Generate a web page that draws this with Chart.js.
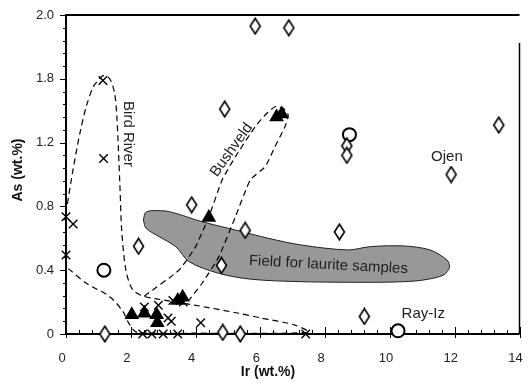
<!DOCTYPE html>
<html>
<head>
<meta charset="utf-8">
<script src="https://cdn.jsdelivr.net/npm/chart.js@4.4.0/dist/chart.umd.min.js"></script>
<style>
  body { margin: 0; background: #fff; }
  canvas { display: block; }
</style>
</head>
<body>
<canvas id="chart" width="528" height="383"></canvas>
<script>
// tick labels as printed on the figure (the 1.6 position is labelled 1.8)
const yTickLabels = ['0', '0.4', '0.8', '1.2', '1.8', '2.0'];

// samples, [Ir, As] in wt.%
const diamonds = [[5.84,1.93],[6.88,1.92],[4.9,1.41],[8.67,1.18],[8.67,1.12],[11.89,1.0],[13.36,1.31],
  [3.88,0.81],[5.53,0.65],[4.8,0.43],[2.24,0.55],[8.44,0.64],[9.21,0.11],[1.2,0],[4.84,0.01],[5.38,0]];
const openCircles = [[1.17,0.4],[8.75,1.25],[10.25,0.02]];
const filledCircles = [[2.67,-0.06]];
const triangles = [[2.03,0.12],[2.42,0.13],[2.8,0.12],[2.82,0.07],[3.45,0.21],[3.6,0.23],[4.41,0.73],[6.5,1.36],[6.66,1.38]];
const crosses = [[1.14,1.59],[1.16,1.1],[0,0.735],[0.22,0.69],[0,0.495],[2.42,0.17],[2.85,0.18],[3.3,0.21],[3.62,0.2],
  [3.15,0.1],[3.25,0.08],[4.16,0.07],[2.37,0],[2.65,0],[3.0,0],[3.45,0],[7.4,0]];

// outlines
const lauriteField = [[2.39,0.715],[2.45,0.76],[2.63,0.773],[3.19,0.767],[4.2,0.704],[5.23,0.652],[6.25,0.6],[7.26,0.558],
  [8.7,0.527],[9.4,0.548],[10.43,0.552],[11.24,0.527],[11.76,0.464],[11.84,0.418],[11.66,0.37],[11.05,0.339],[10.43,0.328],
  [9.4,0.324],[7.26,0.328],[5.73,0.343],[4.72,0.38],[3.8,0.453],[3.39,0.547],[2.88,0.61],[2.47,0.663],[2.39,0.715]];
const birdRiver = [[0.07,0.41],[0.63,0.318],[1.35,0.234],[1.76,0.14],[1.96,0.06],[2.2,0.01],[4.0,0.005],[7.47,0.01],
  [7.07,0.056],[6.03,0.1],[5.33,0.13],[4.0,0.18],[2.8,0.22],[2.35,0.24],[2.05,0.28],[1.85,0.4],[1.72,0.65],[1.67,0.9],
  [1.62,1.15],[1.57,1.36],[1.5,1.51],[1.35,1.6],[1.15,1.62],[0.95,1.58],[0.84,1.55],[0.63,1.43],[0.43,1.26],[0.2,1.01],[0.03,0.8]];
const bushveld = [[2.42,0.238],[3.49,0.401],[4.0,0.547],[4.41,0.735],[4.82,0.966],[5.23,1.112],[5.84,1.3],[6.15,1.373],
  [6.45,1.425],[6.71,1.415],[6.86,1.373],[6.76,1.3],[6.45,1.174],[6.15,1.049],[5.69,0.966],[5.23,0.735],[4.72,0.485],
  [4.2,0.318],[3.8,0.213]];

const labels = [
  { text: 'Bird River', x: 1.91, y: 1.254, rot: 90 },
  { text: 'Bushveld', x: 5.11, y: 1.154, rot: -54.5 },
  { text: 'Field for laurite samples', x: 8.1, y: 0.433, rot: 3 },
  { text: 'Ojen', x: 11.76, y: 1.11, rot: 0 },
  { text: 'Ray-Iz', x: 11.03, y: 0.125, rot: 0 }
];

const pts = a => a.map(([x, y]) => ({ x, y }));
const FONT = '"Liberation Sans", Arial, sans-serif';

// tall open diamond marker
const diamond = document.createElement('canvas');
diamond.width = 13; diamond.height = 18;
(function () {
  const c = diamond.getContext('2d');
  c.beginPath();
  c.moveTo(6.5, 1.2); c.lineTo(11.5, 9); c.lineTo(6.5, 16.8); c.lineTo(1.5, 9); c.closePath();
  c.fillStyle = '#fff'; c.fill();
  c.lineWidth = 1.6; c.strokeStyle = '#000'; c.stroke();
})();

const decor = {
  id: 'decor',
  beforeDatasetsDraw(chart) {
    const { ctx, chartArea: a, scales: { x, y } } = chart;
    ctx.save();
    ctx.strokeStyle = '#000';
    // frame
    ctx.lineWidth = 2;
    ctx.beginPath();
    ctx.moveTo(a.left, a.bottom); ctx.lineTo(a.right, a.bottom);
    ctx.moveTo(a.left, a.bottom); ctx.lineTo(a.left, a.top);
    ctx.moveTo(a.left - 1, a.top); ctx.lineTo(a.right, a.top);
    ctx.stroke();
    ctx.lineWidth = 1.5;
    ctx.beginPath();
    ctx.moveTo(a.right, a.top + 28); ctx.lineTo(a.right, a.bottom);
    ctx.stroke();
    // ticks
    ctx.lineWidth = 1;
    ctx.beginPath();
    for (let i = 0; i <= 35; i++) {
      const px = Math.round(x.getPixelForValue(i * 0.4)) + 0.5;
      if (i % 5 === 0) { ctx.moveTo(px, a.bottom - 7); ctx.lineTo(px, a.bottom + 4); }
      else { ctx.moveTo(px, a.bottom - 4); ctx.lineTo(px, a.bottom); }
    }
    for (let i = 0; i <= 25; i++) {
      const py = Math.round(y.getPixelForValue(i * 0.08)) + 0.5;
      if (i % 5 === 0) { ctx.moveTo(a.left - 6, py); ctx.lineTo(a.left, py); }
      else { ctx.moveTo(a.left - 3, py); ctx.lineTo(a.left, py); }
    }
    ctx.stroke();
    // axis titles
    ctx.fillStyle = '#111';
    ctx.font = 'bold 14px ' + FONT;
    ctx.textAlign = 'center'; ctx.textBaseline = 'middle';
    ctx.fillText('Ir (wt.%)', 268, 372);
    ctx.translate(18, 170); ctx.rotate(-Math.PI / 2);
    ctx.fillText('As (wt.%)', 0, 0);
    ctx.restore();
  },
  afterDatasetsDraw(chart) {
    const { ctx, scales: { x, y } } = chart;
    ctx.save();
    ctx.fillStyle = '#222';
    ctx.font = '15px ' + FONT;
    ctx.textAlign = 'center'; ctx.textBaseline = 'middle';
    labels.forEach(l => {
      ctx.save();
      ctx.translate(x.getPixelForValue(l.x), y.getPixelForValue(l.y));
      ctx.rotate(l.rot * Math.PI / 180);
      ctx.fillText(l.text, 0, 0);
      ctx.restore();
    });
    ctx.restore();
  }
};

const dashed = { showLine: true, fill: false, borderColor: '#000', borderWidth: 1.2, borderDash: [6, 4],
  pointRadius: 0, order: 9 };

new Chart(document.getElementById('chart'), {
  type: 'scatter',
  data: {
    datasets: [
      { data: pts(lauriteField), showLine: true, fill: 'shape', backgroundColor: '#989898', borderColor: '#222',
        borderWidth: 1, pointRadius: 0, tension: 0.3, order: 10 },
      { ...dashed, data: pts(birdRiver), tension: 0.3 },
      { ...dashed, data: pts(bushveld), tension: 0.15 },
      { data: pts(diamonds), pointStyle: diamond, order: 1 },
      { data: pts(openCircles), pointStyle: 'circle', pointRadius: 6.5, borderWidth: 2, borderColor: '#000',
        backgroundColor: '#fff', order: 1 },
      { data: pts(crosses), pointStyle: 'crossRot', pointRadius: 6, borderWidth: 1.4, borderColor: '#000', order: 2 },
      { data: pts(triangles), pointStyle: 'triangle', pointRadius: 8.5, borderWidth: 0, backgroundColor: '#000', order: 0 },
      { data: pts(filledCircles), pointStyle: 'circle', pointRadius: 6, borderWidth: 0, backgroundColor: '#000', order: 0 }
    ].map(d => ({ clip: false, ...d }))
  },
  options: {
    responsive: false,
    animation: false,
    devicePixelRatio: 1,
    layout: { padding: { top: 15, right: 5, left: 0, bottom: 0 } },
    plugins: { legend: { display: false }, tooltip: { enabled: false } },
    scales: {
      x: {
        type: 'linear', min: 0, max: 14,
        grid: { display: false, drawTicks: false },
        border: { display: false },
        ticks: { stepSize: 2, padding: 17, labelOffset: -4, color: '#222', font: { family: FONT, size: 13 } },
        afterFit(s) { s.height = 49; s.paddingLeft = 0; s.paddingRight = 0; }
      },
      y: {
        type: 'linear', min: 0, max: 2.0,
        grid: { display: false, drawTicks: false },
        border: { display: false },
        ticks: { stepSize: 0.4, padding: 12, color: '#222', font: { family: FONT, size: 13 },
          callback: (v, i) => yTickLabels[i] },
        afterFit(s) { s.width = 66; s.paddingTop = 0; s.paddingBottom = 0; }
      }
    }
  },
  plugins: [decor]
});
</script>
</body>
</html>
